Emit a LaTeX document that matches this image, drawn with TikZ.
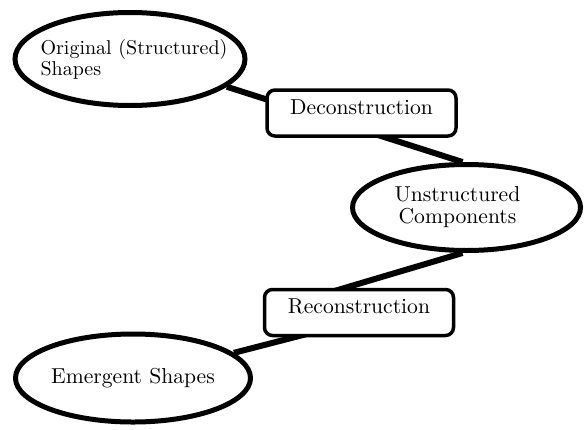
\documentclass[tikz,border=0pt]{standalone}
\usepackage{tikz}
\usetikzlibrary{shapes.geometric,backgrounds}

\begin{document}
\begin{tikzpicture}[x=0.5pt,y=-0.5pt,
  every node/.style={font=\fontsize{10.8}{10}\selectfont},
  blob/.style={ellipse,draw,line width=2.5pt,fill=white,inner sep=0pt},
  stage/.style={rectangle,rounded corners=4pt,draw,line width=1.75pt,fill=white,
    minimum width=94.5pt,minimum height=23pt,text depth=6pt},
  link/.style={line width=3pt}]
\useasboundingbox (0,0) rectangle (588,429);
\node[blob,minimum width=115pt,minimum height=46.5pt,
  label={[align=left,xshift=2pt,font=\fontsize{10}{9.5}\selectfont]center:{Original (Structured)\\Shapes}}] (orig) at (130,59) {};
\node[stage] (decon) at (361.5,113) {Deconstruction};
\node[blob,minimum width=114pt,minimum height=43pt,
  label={[align=center,xshift=-4.5pt,font=\fontsize{10.8}{11}\selectfont]center:{Unstructured\\Components}}] (unstr) at (466.5,207.5) {};
\node[stage] (recon) at (359,312.5) {Reconstruction};
\node[blob,minimum width=117.5pt,minimum height=44pt,
  label=center:Emergent Shapes] (emerg) at (133,378) {};
% connectors run behind the boxes
\begin{scope}[on background layer]
\draw[link] (orig.-16) -- (unstr.95);
\draw[link] (unstr.-95) -- ([xshift=6pt,yshift=1.9pt]recon.west);
\draw[link] ([xshift=-6pt,yshift=-1.6pt]recon.10) -- (emerg.14);
\end{scope}
\end{tikzpicture}
\end{document}
